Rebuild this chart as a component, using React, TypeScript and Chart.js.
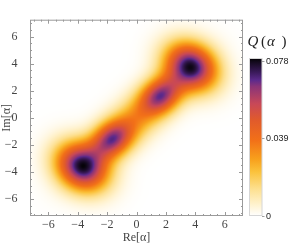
import React, { useEffect, useRef } from "react";
import { Chart, registerables } from "chart.js";

Chart.register(...registerables);

// ---- data ----
const axisMin = -7.25;
const axisMax = 7.25;
const xTickValues = [-6, -4, -2, 0, 2, 4, 6];
const yTickValues = [-6, -4, -2, 0, 2, 4, 6];

// components of Q(alpha): centres, heights and spreads (along / across the diagonal)
const peakRe = [-3.72, -1.68, 0, 1.66, 3.72];
const peakIm = [-3.62, -1.58, 0, 1.64, 3.8];
const peakAmp = [0.071, 0.044, 0.031, 0.044, 0.071];
const spreadAlong = [1.1, 1.0, 3.0, 1.0, 1.1];
const spreadAcross = [1.35, 0.82, 1.0, 0.82, 1.35];

const colorbarTicks = [0, 0.039, 0.078];
const colorbarMax = 0.0795;

const cmapStops = [0, 0.07, 0.17, 0.28, 0.36, 0.48, 0.61, 0.71, 0.82, 0.86, 0.91, 0.98, 1];
const cmapColors = [
  "#ffffff", "#fff3d0", "#fde090", "#fbc23c", "#f8a01c", "#f27018",
  "#e05a2c", "#c84858", "#8a3478", "#5c2a8c", "#3a1a5a", "#100818", "#000000",
];

function hexToRgb(h: string) {
  return [parseInt(h.slice(1, 3), 16), parseInt(h.slice(3, 5), 16), parseInt(h.slice(5, 7), 16)];
}
const cmapRgb = cmapColors.map(hexToRgb);

function colorAt(t: number) {
  t = Math.max(0, Math.min(1, t));
  for (let i = 1; i < cmapStops.length; i++) {
    if (t <= cmapStops[i]) {
      const f = (t - cmapStops[i - 1]) / (cmapStops[i] - cmapStops[i - 1]);
      const a = cmapRgb[i - 1], b = cmapRgb[i];
      return [a[0] + (b[0] - a[0]) * f, a[1] + (b[1] - a[1]) * f, a[2] + (b[2] - a[2]) * f];
    }
  }
  return cmapRgb[cmapRgb.length - 1];
}

function qValue(re: number, im: number) {
  let v = 0;
  for (let k = 0; k < peakRe.length; k++) {
    const dx = re - peakRe[k];
    const dy = im - peakIm[k];
    const du = (dx + dy) / Math.SQRT2;
    const dw = (dy - dx) / Math.SQRT2;
    v += peakAmp[k] * Math.exp(-(du * du) / (2 * spreadAlong[k] ** 2) - (dw * dw) / (2 * spreadAcross[k] ** 2));
  }
  return v;
}

const GRID_N = 290;
function buildImage() {
  const c = document.createElement("canvas");
  c.width = GRID_N;
  c.height = GRID_N;
  const ctx = c.getContext("2d")!;
  const img = ctx.createImageData(GRID_N, GRID_N);
  const step = (axisMax - axisMin) / GRID_N;
  for (let j = 0; j < GRID_N; j++) {
    const im = axisMax - (j + 0.5) * step;
    for (let i = 0; i < GRID_N; i++) {
      const re = axisMin + (i + 0.5) * step;
      const col = colorAt(qValue(re, im) / colorbarMax);
      const p = (j * GRID_N + i) * 4;
      img.data[p] = col[0];
      img.data[p + 1] = col[1];
      img.data[p + 2] = col[2];
      img.data[p + 3] = 255;
    }
  }
  ctx.putImageData(img, 0, 0);
  return c;
}

const serif = "'Liberation Serif', 'Times New Roman', serif";
const sans = "'Liberation Sans', Arial, sans-serif";
const fmt = (v: number) => (v < 0 ? "\u2212" + Math.abs(v) : String(v));

export default function App() {
  const ref = useRef<HTMLCanvasElement>(null);
  useEffect(() => {
    const image = buildImage();
    const heatmapPlugin = {
      id: "heatmap",
      beforeDatasetsDraw(chart: any) {
        const { ctx, scales } = chart;
        const x0 = scales.x.getPixelForValue(axisMin);
        const x1 = scales.x.getPixelForValue(axisMax);
        const y0 = scales.y.getPixelForValue(axisMax);
        const y1 = scales.y.getPixelForValue(axisMin);
        ctx.save();
        ctx.imageSmoothingEnabled = true;
        ctx.drawImage(image, x0, y0, x1 - x0, y1 - y0);
        ctx.restore();
      },
      afterDraw(chart: any) {
        const { ctx, chartArea, scales } = chart;
        const { left, right, top, bottom } = chartArea;
        ctx.save();
        // frame
        ctx.strokeStyle = "#9a9a9a";
        ctx.lineWidth = 1;
        ctx.strokeRect(left + 0.5, top + 0.5, right - left - 1, bottom - top - 1);
        // frame ticks
        ctx.beginPath();
        for (let v = -7; v <= 7.001; v += 0.5) {
          const major = Math.abs(v % 2) < 1e-6;
          const len = major ? 4 : 2;
          const px = Math.round(scales.x.getPixelForValue(v)) + 0.5;
          ctx.moveTo(px, bottom);
          ctx.lineTo(px, bottom - len);
          ctx.moveTo(px, top);
          ctx.lineTo(px, top + len);
          const py = Math.round(scales.y.getPixelForValue(v)) + 0.5;
          ctx.moveTo(left, py);
          ctx.lineTo(left + len, py);
          ctx.moveTo(right, py);
          ctx.lineTo(right - len, py);
        }
        ctx.stroke();

        // colorbar
        const cbL = 249.5, cbR = 262, cbT = 58, cbB = 216;
        const grad = ctx.createLinearGradient(0, cbB, 0, cbT);
        cmapStops.forEach((s, i) => grad.addColorStop(s, cmapColors[i]));
        ctx.fillStyle = grad;
        ctx.fillRect(cbL, cbT, cbR - cbL, cbB - cbT);
        ctx.strokeStyle = "#d6d6d6";
        ctx.strokeRect(cbL, cbT + 0.5, cbR - cbL, cbB - cbT - 1);
        ctx.strokeStyle = "#a0a0a0";
        ctx.fillStyle = "#222";
        ctx.font = `9px ${sans}`;
        ctx.textBaseline = "middle";
        ctx.textAlign = "left";
        colorbarTicks.forEach((t) => {
          const py = cbB - (t / colorbarMax) * (cbB - cbT);
          ctx.beginPath();
          ctx.moveTo(cbR, Math.round(py) + 0.5);
          ctx.lineTo(cbR + 2.5, Math.round(py) + 0.5);
          ctx.stroke();
          ctx.fillText(String(t), cbR + 4, py + 0.5);
        });
        // colorbar title Q(α)
        ctx.fillStyle = "#222";
        ctx.textBaseline = "alphabetic";
        ctx.font = `italic 15px ${serif}`;
        ctx.fillText("Q", 247.5, 46);
        ctx.font = `15px ${serif}`;
        ctx.fillText("(", 261, 46);
        ctx.font = `italic 15px ${serif}`;
        ctx.fillText("\u03b1", 267, 46);
        ctx.font = `15px ${serif}`;
        ctx.fillText(")", 281.5, 46);
        ctx.restore();
      },
    };

    const chart = new Chart(ref.current!, {
      type: "scatter",
      data: { datasets: [{ data: [] }] },
      options: {
        animation: false,
        responsive: false,
        events: [],
        layout: { padding: { left: 0, top: 2, right: 48, bottom: 0 } },
        plugins: { legend: { display: false }, tooltip: { enabled: false } },
        scales: {
          x: {
            type: "linear",
            min: axisMin,
            max: axisMax,
            afterBuildTicks: (s: any) => {
              s.ticks = xTickValues.map((v) => ({ value: v }));
            },
            afterFit: (s: any) => {
              s.height = 31;
            },
            grid: { display: false, drawTicks: false },
            border: { display: false },
            ticks: {
              callback: (v: any) => fmt(Number(v)),
              font: { family: serif, size: 12 },
              color: "#444",
              padding: 2,
              maxRotation: 0,
            },
            title: {
              display: true,
              text: "Re[\u03b1]",
              font: { family: serif, size: 12 },
              color: "#444",
              padding: { top: 0, bottom: 2 },
            },
          },
          y: {
            type: "linear",
            min: axisMin,
            max: axisMax,
            afterBuildTicks: (s: any) => {
              s.ticks = yTickValues.map((v) => ({ value: v }));
            },
            afterFit: (s: any) => {
              s.width = 30;
            },
            grid: { display: false, drawTicks: false },
            border: { display: false },
            ticks: {
              callback: (v: any) => fmt(Number(v)),
              font: { family: serif, size: 12 },
              color: "#444",
              padding: 12.5,
            },
            title: {
              display: true,
              text: "Im[\u03b1]",
              font: { family: serif, size: 12 },
              color: "#444",
              padding: { top: 0, bottom: 0 },
            },
          },
        },
      },
      plugins: [heatmapPlugin],
    });
    return () => chart.destroy();
  }, []);

  return (
    <div style={{ position: "absolute", left: 0, top: 0, width: 291, height: 247, background: "#fff" }}>
      <canvas ref={ref} width={291} height={247} />
    </div>
  );
}
